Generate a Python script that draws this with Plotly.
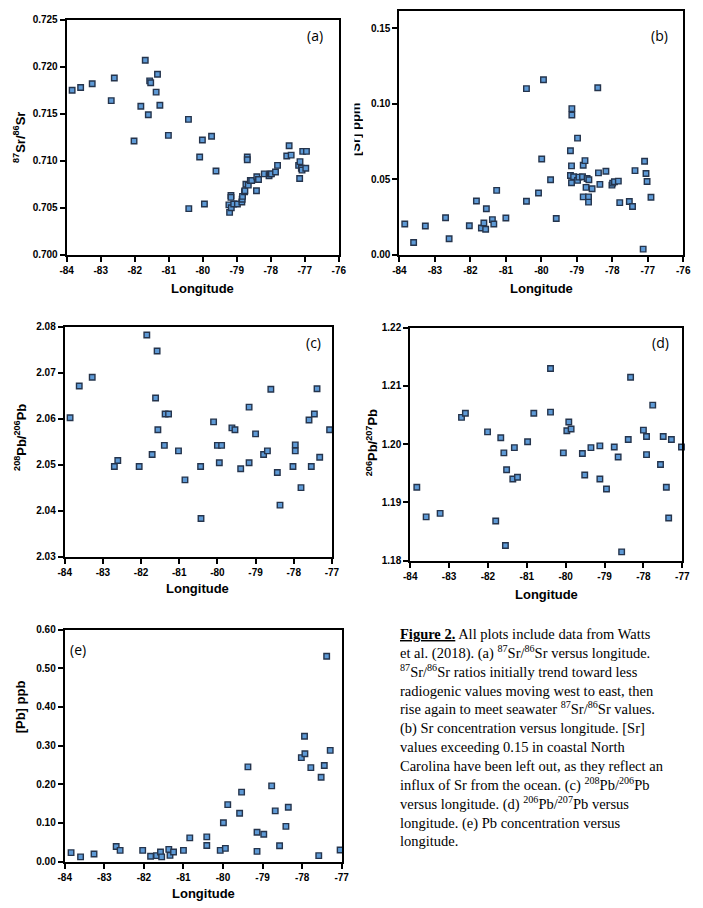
import plotly.graph_objects as go

W, H = 703, 908

# ---------------- data ----------------
a_lon = [-83.84, -83.59, -83.25, -82.60, -82.69, -82.02, -81.82, -81.69, -81.60, -81.56, -81.53,
         -81.37, -81.33, -81.26, -81.01, -80.42, -80.41, -80.01, -80.09, -79.74, -79.95, -79.61,
         -79.21, -79.23, -79.17, -79.17, -79.16, -79.09, -78.98, -78.85, -78.84, -78.83, -78.77,
         -78.76, -78.73, -78.69, -78.69, -78.66, -78.60, -78.56, -78.41, -78.42, -78.36, -78.19,
         -78.05, -78.02, -77.98, -77.86, -77.80, -77.53, -77.46, -77.40, -77.18, -77.14, -77.15,
         -77.10, -77.08, -77.06, -76.95, -76.97]
a_sr = [0.7175, 0.7178, 0.7182, 0.7188, 0.7164, 0.7121, 0.7158, 0.7207, 0.7149, 0.7185, 0.7183,
        0.7173, 0.7192, 0.7159, 0.7127, 0.7144, 0.7049, 0.7122, 0.7104, 0.7126, 0.7054, 0.7089,
        0.7045, 0.7053, 0.7063, 0.7061, 0.7050, 0.7054, 0.7054, 0.7056, 0.7059, 0.7062, 0.7067,
        0.7068, 0.7075, 0.7104, 0.7101, 0.7074, 0.7079, 0.7079, 0.7083, 0.7068, 0.7080, 0.7086,
        0.7084, 0.7086, 0.7086, 0.7088, 0.7095, 0.7105, 0.7116, 0.7106, 0.7095, 0.7099, 0.7081,
        0.7092, 0.7090, 0.7110, 0.7110, 0.7092]

b_lon = [-83.85, -83.60, -83.27, -82.70, -82.60, -82.03, -81.83, -81.69, -81.62, -81.57, -81.55,
         -81.38, -81.34, -81.26, -81.00, -80.42, -80.42, -80.08, -79.99, -79.94, -79.74, -79.58,
         -79.18, -79.18, -79.15, -79.14, -79.14, -79.15, -79.09, -78.98, -78.98, -78.94, -78.84,
         -78.82, -78.82, -78.77, -78.74, -78.71, -78.67, -78.66, -78.67, -78.57, -78.41, -78.39,
         -78.35, -78.18, -78.01, -77.99, -77.94, -77.83, -77.79, -77.52, -77.43, -77.36, -77.13,
         -77.09, -77.05, -77.02, -76.91]
b_sr = [0.0203, 0.0081, 0.0190, 0.0245, 0.0105, 0.0192, 0.0356, 0.0177, 0.0210, 0.0168, 0.0304,
        0.0232, 0.0203, 0.0426, 0.0243, 0.1100, 0.0354, 0.0409, 0.0634, 0.1159, 0.0496, 0.0240,
        0.0689, 0.0525, 0.0588, 0.0968, 0.0925, 0.0477, 0.0516, 0.0772, 0.0492, 0.0514, 0.0516,
        0.0592, 0.0383, 0.0623, 0.0446, 0.0505, 0.0383, 0.0496, 0.0348, 0.0437, 0.1106, 0.0542,
        0.0466, 0.0553, 0.0461, 0.0474, 0.0483, 0.0487, 0.0345, 0.0352, 0.0319, 0.0557, 0.0037,
        0.0619, 0.0538, 0.0485, 0.0380]

c_lon = [-83.86, -83.62, -83.28, -82.70, -82.61, -82.05, -81.85, -81.71, -81.62, -81.58, -81.56,
         -81.39, -81.37, -81.28, -81.02, -80.85, -80.44, -80.43, -80.10, -80.00, -79.95, -79.89,
         -79.62, -79.54, -79.39, -79.17, -79.17, -79.00, -78.79, -78.69, -78.60, -78.43, -78.36,
         -78.02, -77.96, -77.96, -77.81, -77.60, -77.54, -77.46, -77.39, -77.32, -77.06]
c_pb = [2.0602, 2.0671, 2.0690, 2.0496, 2.0509, 2.0496, 2.0782, 2.0522, 2.0645, 2.0747, 2.0576,
        2.0542, 2.0610, 2.0610, 2.0530, 2.0467, 2.0496, 2.0383, 2.0593, 2.0542, 2.0504, 2.0542,
        2.0580, 2.0576, 2.0491, 2.0625, 2.0504, 2.0567, 2.0522, 2.0530, 2.0664, 2.0483, 2.0412,
        2.0496, 2.0543, 2.0530, 2.0450, 2.0597, 2.0496, 2.0610, 2.0665, 2.0516, 2.0576]

d_lon = [-83.83, -83.59, -83.23, -82.68, -82.58, -82.01, -81.80, -81.67, -81.59, -81.55, -81.52,
         -81.36, -81.32, -81.24, -80.98, -80.82, -80.39, -80.39, -80.06, -79.97, -79.92, -79.86,
         -79.57, -79.51, -79.35, -79.12, -79.12, -78.95, -78.75, -78.65, -78.56, -78.39, -78.33,
         -78.00, -77.92, -77.92, -77.76, -77.56, -77.49, -77.41, -77.35, -77.28, -77.02]
d_pb = [1.1926, 1.1875, 1.1881, 1.2046, 1.2053, 1.2021, 1.1868, 1.2011, 1.1985, 1.1826, 1.1956,
        1.1940, 1.1994, 1.1943, 1.2004, 1.2053, 1.2055, 1.2130, 1.1985, 1.2023, 1.2038, 1.2026,
        1.1984, 1.1947, 1.1994, 1.1997, 1.1940, 1.1923, 1.1995, 1.1978, 1.1815, 1.2008, 1.2115,
        1.2024, 1.2013, 1.1982, 1.2067, 1.1965, 1.2013, 1.1926, 1.1873, 1.2008, 1.1995]

e_lon = [-83.84, -83.60, -83.26, -82.70, -82.60, -82.03, -81.83, -81.68, -81.58, -81.55, -81.37,
         -81.34, -81.25, -81.00, -80.84, -80.41, -80.41, -80.07, -79.99, -79.94, -79.88, -79.58,
         -79.53, -79.37, -79.14, -79.14, -78.97, -78.77, -78.68, -78.57, -78.41, -78.35, -78.02,
         -77.94, -77.93, -77.78, -77.58, -77.52, -77.44, -77.38, -77.29, -77.04]
e_pb = [0.023, 0.012, 0.0196, 0.039, 0.029, 0.029, 0.0136, 0.0153, 0.0247, 0.012, 0.0315,
        0.016, 0.0247, 0.029, 0.0613, 0.0638, 0.0417, 0.029, 0.1004, 0.034, 0.1472, 0.1251,
        0.1796, 0.245, 0.0757, 0.0264, 0.0706, 0.1957, 0.131, 0.0408, 0.0911, 0.1404, 0.269,
        0.324, 0.279, 0.243, 0.0153, 0.218, 0.2485, 0.531, 0.2876, 0.0298]

x_ticks_8 = [-84, -83, -82, -81, -80, -79, -78, -77, -76]
x_ticks_7 = [-84, -83, -82, -81, -80, -79, -78, -77]
x_ticklabels_8 = ["-84", "-83", "-82", "-81", "-80", "-79", "-78", "-77", "-76"]
x_ticklabels_7 = ["-84", "-83", "-82", "-81", "-80", "-79", "-78", "-77"]

# ---------------- helpers ----------------
def xd(px0, px1):
    return [px0 / W, px1 / W]

def yd(py_top, py_bot):
    return [1 - py_bot / H, 1 - py_top / H]

FILL = "#5e9ad6"
EDGE = "#25344c"
TICKFONT = dict(family="Liberation Sans, Arial", size=10, color="black", weight="bold")
TITLEFONT = dict(family="Liberation Sans, Arial", size=13, color="black", weight="bold")

fig = go.Figure()

panels = [
    # name, lon, vals, xdom px, ydom px, xrange, xticks, xlabels, yrange, dtick, fmt
    ("", a_lon, a_sr, (61, 339), (14, 252), [-84, -76], x_ticks_8, x_ticklabels_8, [0.700, 0.725], 0.005, ".3f"),
    ("2", b_lon, b_sr, (401, 691), (5, 252), [-84, -76], x_ticks_8, x_ticklabels_8, [0.0, 0.1615], 0.05, ".2f"),
    ("3", c_lon, c_pb, (59, 332), (325, 558), [-84, -77], x_ticks_7, x_ticklabels_7, [2.03, 2.08], 0.01, ".2f"),
    ("4", d_lon, d_pb, (412, 690), (326, 562), [-84, -77], x_ticks_7, x_ticklabels_7, [1.18, 1.22], 0.01, ".2f"),
    ("5", e_lon, e_pb, (59, 342), (632, 867), [-84, -77], x_ticks_7, x_ticklabels_7, [0.0, 0.60], 0.10, ".2f"),
]

layout = {}
for name, lon, vals, xp, yp, xr, xt, xl, yr, dt, fmt in panels:
    fig.add_trace(go.Scatter(
        x=lon, y=vals, mode="markers",
        xaxis="x" + name, yaxis="y" + name,
        marker=dict(symbol="square", size=5.5, color=FILL, line=dict(color=EDGE, width=1.4)),
        cliponaxis=False, showlegend=False, hoverinfo="x+y"))
    layout["xaxis" + name] = dict(
        domain=xd(*xp), range=xr, anchor="y" + name, tickmode="array", tickvals=xt, ticktext=xl,
        showline=True, linecolor="black", linewidth=2, mirror=True, showgrid=False, zeroline=False,
        ticks="outside", ticklen=5, tickwidth=1.5, tickcolor="black", tickfont=TICKFONT)
    layout["yaxis" + name] = dict(
        domain=yd(*yp), range=yr, anchor="x" + name, dtick=dt, tick0=yr[0], tickformat=fmt,
        showline=True, linecolor="black", linewidth=2, mirror=True, showgrid=False, zeroline=False,
        ticks="outside", ticklen=5, tickwidth=1.5, tickcolor="black", tickfont=TICKFONT)

# clipped "[Sr] ppm" label fragment for panel (b), via a hidden bar with rotated text
fig.add_trace(go.Bar(
    x=[0], y=[1], base=[0], width=[0.3], xaxis="x6", yaxis="y6",
    marker=dict(color="rgba(0,0,0,0)", line=dict(width=0)),
    text=["[Sr] ppm"], textposition="inside", textangle=-90, insidetextanchor="middle",
    constraintext="none", cliponaxis=True, showlegend=False, hoverinfo="skip",
    insidetextfont=dict(family="Liberation Sans, Arial", size=13, color="black", weight="bold")))
layout["xaxis6"] = dict(domain=xd(355, 364), range=[-0.15, 0.95], visible=False, fixedrange=True)
layout["yaxis6"] = dict(domain=yd(60, 190), range=[0, 1], visible=False, fixedrange=True)

annotations = []

def ann(text, px, py, size=13, angle=0, font=None, **kw):
    f = dict(TITLEFONT)
    f["size"] = size
    if font:
        f.update(font)
    d = dict(text=text, x=px / W, y=1 - py / H, xref="paper", yref="paper",
             showarrow=False, textangle=angle, font=f, xanchor="center", yanchor="middle")
    d.update(kw)
    annotations.append(d)

# x-axis titles
ann("Longitude", 200, 286)
ann("Longitude", 546, 286)
ann("Longitude", 195, 590)
ann("Longitude", 551, 596)
ann("Longitude", 201, 899)

# y-axis titles
ann("<sup>87</sup>Sr/<sup>86</sup>Sr", 13, 133, angle=-90)
ann("<sup>208</sup>Pb/<sup>206</sup>Pb", 14, 437, angle=-90)
ann("<sup>206</sup>Pb/<sup>207</sup>Pb", 373, 443, angle=-90)
ann("[Pb] ppb", 14, 710, angle=-90)

# panel labels
PL = dict(family="Open Sans, Liberation Sans", weight="normal")
ann("(a)", 315, 30, size=14, font=PL)
ann("(b)", 667, 30, size=14, font=PL)
ann("(c)", 313, 341, size=14, font=PL)
ann("(d)", 668, 341, size=14, font=PL)
ann("(e)", 73, 652, size=14, font=PL)

caption_lines = [
    "<b><u>Figure 2.</u></b> All plots include data from Watts",
    "et al. (2018). (a) <sup>87</sup>Sr/<sup>86</sup>Sr versus longitude.",
    "<sup>87</sup>Sr/<sup>86</sup>Sr ratios initially trend toward less",
    "radiogenic values moving west to east, then",
    "rise again to meet seawater <sup>87</sup>Sr/<sup>86</sup>Sr values.",
    "(b) Sr concentration versus longitude. [Sr]",
    "values exceeding 0.15 in coastal North",
    "Carolina have been left out, as they reflect an",
    "influx of Sr from the ocean. (c) <sup>208</sup>Pb/<sup>206</sup>Pb",
    "versus longitude. (d) <sup>206</sup>Pb/<sup>207</sup>Pb versus",
    "longitude. (e) Pb concentration versus",
    "longitude.",
]
annotations.append(dict(
    text="<br>".join(caption_lines), x=400 / W, y=1 - 626 / H, xref="paper", yref="paper",
    showarrow=False, xanchor="left", yanchor="top", align="left",
    font=dict(family="Liberation Serif, Times New Roman", size=14.5, color="black")))

fig.update_layout(
    width=W, height=H, margin=dict(l=0, r=0, t=0, b=0),
    paper_bgcolor="white", plot_bgcolor="white",
    annotations=annotations, showlegend=False, **layout)

fig.write_html("out.html")
